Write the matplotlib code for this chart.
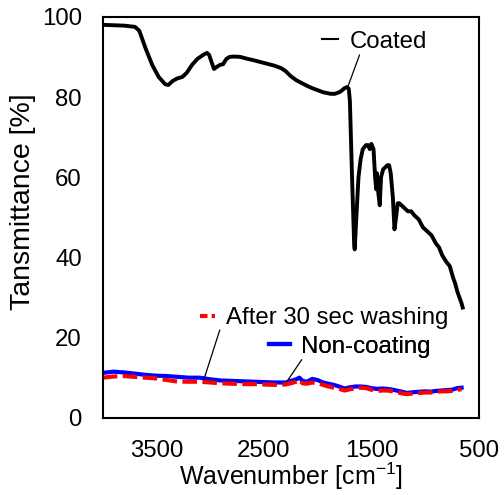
import matplotlib
matplotlib.use('Agg')
import matplotlib.pyplot as plt
from matplotlib.lines import Line2D

plt.rcParams['font.family'] = ['Liberation Sans', 'DejaVu Sans']

# FT-IR spectra
coated_wn = [4000, 3900, 3800, 3700, 3660, 3600, 3540, 3480, 3420, 3390, 3350, 3310,
             3260, 3220, 3170, 3120, 3060, 3030, 3010, 2985, 2965, 2940, 2910, 2880,
             2850, 2820, 2780, 2720, 2650, 2600, 2500, 2400, 2340, 2300, 2250, 2200,
             2150, 2100, 2050, 2000, 1950, 1880, 1840, 1790, 1750, 1725, 1710, 1700,
             1680, 1660, 1655, 1640, 1620, 1600, 1580, 1550, 1530, 1515, 1500, 1480,
             1465, 1455, 1448, 1435, 1422, 1410, 1390, 1370, 1350, 1335, 1320, 1300,
             1285, 1270, 1255, 1240, 1200, 1160, 1130, 1100, 1060, 1020, 980, 940,
             900, 870, 840, 800, 770, 740, 720, 700, 680, 660, 650]
coated_t = [98.0, 97.9, 97.8, 97.5, 96.5, 92.0, 88.0, 85.0, 83.2, 83.0, 84.0, 84.6,
            85.0, 86.0, 88.0, 89.5, 90.6, 91.0, 90.5, 88.5, 87.0, 87.5, 88.0, 88.2,
            89.5, 90.0, 90.1, 90.0, 89.5, 89.2, 88.5, 87.8, 87.2, 86.5, 85.2, 84.2,
            83.5, 82.8, 82.2, 81.7, 81.2, 80.8, 80.8, 81.3, 82.2, 82.5, 82.0, 79.0,
            60.0, 43.0, 42.0, 50.0, 60.0, 64.5, 67.0, 68.0, 68.0, 67.0, 68.3, 67.0,
            60.0, 57.0, 61.0, 56.0, 53.0, 60.0, 62.0, 62.5, 63.0, 63.0, 61.0, 55.0,
            47.0, 50.0, 53.5, 53.5, 52.5, 51.5, 51.5, 50.5, 49.5, 47.5, 46.5, 45.5,
            43.5, 42.5, 40.5, 38.8, 37.8, 35.0, 33.5, 31.5, 30.0, 28.5, 27.5]

base_wn = [4000, 3900, 3800, 3700, 3600, 3500, 3400, 3300, 3200, 3100, 3000, 2900,
           2800, 2700, 2600, 2500, 2400, 2300, 2250, 2200, 2170, 2140, 2100, 2050,
           2000, 1950, 1900, 1850, 1800, 1750, 1700, 1650, 1600, 1550, 1500, 1450,
           1400, 1350, 1300, 1250, 1200, 1170, 1100, 1050, 1000, 950, 900, 850,
           800, 750, 700, 660]
noncoat_t = [11.2, 11.5, 11.3, 11.0, 10.7, 10.5, 10.4, 10.2, 10.0, 10.0, 9.6, 9.3,
             9.2, 9.1, 9.0, 8.9, 8.8, 8.8, 9.2, 9.6, 10.0, 9.2, 9.0, 9.7,
             9.4, 8.8, 8.5, 8.2, 7.8, 7.3, 7.6, 7.8, 7.8, 7.7, 7.4, 7.2,
             7.3, 7.2, 7.0, 6.7, 6.4, 6.2, 6.4, 6.5, 6.6, 6.5, 6.7, 6.8,
             6.9, 7.0, 7.4, 7.5]
washed_t = [10.0, 10.3, 10.4, 10.2, 10.0, 9.8, 9.4, 9.0, 9.0, 9.0, 8.8, 8.6,
            8.5, 8.4, 8.4, 8.3, 8.2, 8.3, 8.6, 9.0, 9.4, 8.6, 8.5, 8.8,
            8.6, 8.2, 7.8, 7.5, 7.2, 6.8, 7.1, 7.4, 7.5, 7.4, 7.0, 6.7,
            6.8, 6.8, 6.6, 6.3, 6.0, 5.9, 6.1, 6.2, 6.3, 6.3, 6.5, 6.6,
            6.6, 6.7, 7.0, 7.1]

x_ticks = [3500, 2500, 1500, 500]
y_ticks = [0, 20, 40, 60, 80, 100]

fs = 17.3
fig = plt.figure(figsize=(5.04, 4.95), dpi=100)
ax = fig.add_axes([0.204, 0.156, 0.746, 0.810])

ax.plot(coated_wn, coated_t, color='black', lw=2.8, solid_joinstyle='round')
ax.plot(base_wn, noncoat_t, color='#0000ff', lw=3)
ax.plot(base_wn, washed_t, color='#ff0000', lw=3, linestyle=(0, (3.5, 1.3)))

ax.set_xlim(4000, 500)
ax.set_ylim(0, 100)
ax.set_xticks(x_ticks)
ax.set_yticks(y_ticks)
ax.tick_params(length=0, labelsize=fs)
ax.tick_params(axis='x', pad=16)
ax.tick_params(axis='y', pad=15)
for s in ax.spines.values():
    s.set_linewidth(1.5)

ax.set_xlabel('Wavenumber [cm$^{\\mathregular{-1}}$]', fontsize=18)
ax.xaxis.set_label_coords(0.5, -0.106)
ax.set_ylabel('Tansmittance [%]', fontsize=20.5)
ax.yaxis.set_label_coords(-0.178, 0.54)

# labels with leader lines, Excel style
def tag(handle, text, anchor, hlen):
    lg = ax.legend([handle], [text], loc='center left', bbox_to_anchor=anchor,
                   frameon=False, fontsize=fs, handlelength=hlen, handletextpad=0.45,
                   borderpad=0, borderaxespad=0)
    ax.add_artist(lg)

tag(Line2D([], [], color='black', lw=1.5), 'Coated', (0.582, 0.938), 0.7)
tag(Line2D([], [], color='#ff0000', lw=3, linestyle=(0, (1.8, 1.0))),
    'After 30 sec washing', (0.258, 0.249), 0.65)
tag(Line2D([], [], color='#0000ff', lw=3), 'Non-coating', (0.441, 0.177), 0.9)

lead = dict(arrowstyle='-', color='black', lw=0.9, shrinkA=0, shrinkB=0)
ax.annotate('', xy=(1720, 82.5), xytext=(1610, 90.5), arrowprops=lead)
ax.annotate('', xy=(3060, 9.5), xytext=(2911, 21.9), arrowprops=lead)
ax.annotate('', xy=(2287, 9.0), xytext=(2148, 14.5), arrowprops=lead)

fig.savefig('out.png', dpi=100, facecolor='white')
